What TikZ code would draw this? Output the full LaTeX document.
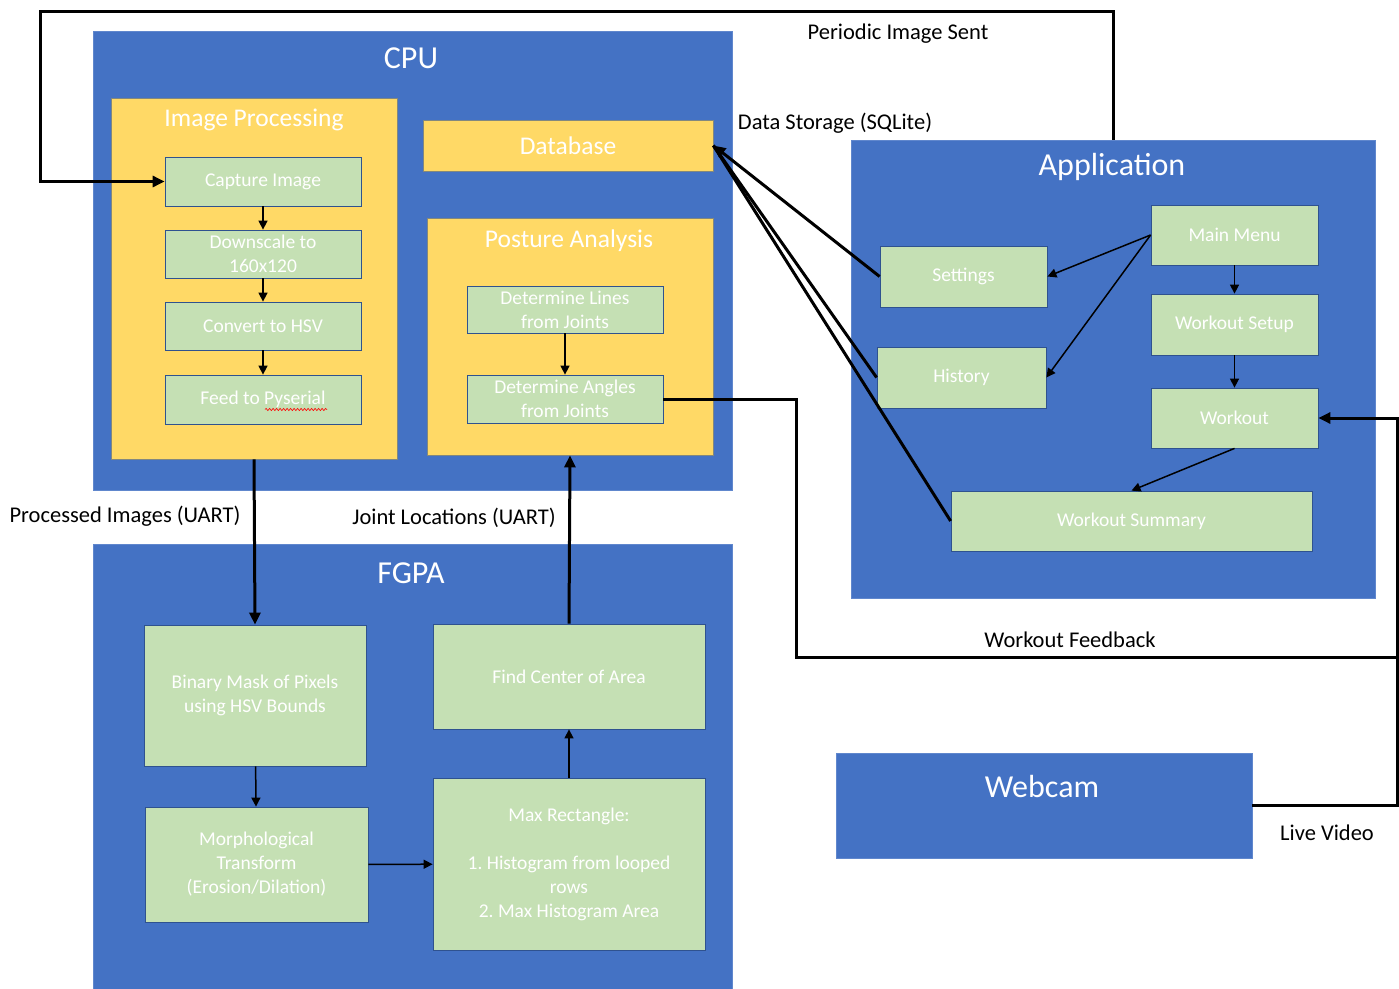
\documentclass[tikz,border=0pt]{standalone}
\usepackage{fontspec}
\setmainfont{Carlito}
\usetikzlibrary{arrows.meta,decorations.pathmorphing,calc}

\definecolor{offblue}{HTML}{4472C4}
\definecolor{offgold}{HTML}{FFD966}
\definecolor{offgreen}{HTML}{C5E0B4}
\definecolor{edgeblue}{HTML}{2F528F}

\begin{document}
\frenchspacing
\begin{tikzpicture}[x=1pt,y=-1pt,
  unit/.style={rectangle, draw=offblue!85!white, line width=0.6pt, fill=offblue, inner sep=0pt},
  group/.style={rectangle, draw=edgeblue!60!offgold, line width=0.8pt, fill=offgold, inner sep=0pt,
    text=white, font=\fontsize{25.5}{30}\selectfont},
  stage/.style={rectangle, draw=edgeblue, line width=0.8pt, fill=offgreen, inner sep=0pt,
    text=white, align=center, font=\fontsize{19.5}{24}\selectfont},
  title/.style={text=white, font=\fontsize{32}{38}\selectfont, inner sep=0pt},
  subtitle/.style={text=white, font=\fontsize{25.5}{30}\selectfont, inner sep=0pt},
  note/.style={text=black, font=\fontsize{22.5}{27}\selectfont, inner sep=0pt},
  bus/.style={line width=3pt, draw=black},
  busarrow/.style={bus, -{Triangle[length=12pt,width=11pt]}},
  flow/.style={line width=1.5pt, draw=black, -{Triangle[length=9pt,width=9pt]}},
]
\useasboundingbox (0,0) rectangle (1399,988);

% ---------- CPU ----------
\node[unit, minimum width=639pt, minimum height=459pt] (cpu) at (412.5,260.5) {};
\node[title] (cputitle) at (411,58) {CPU};

\node[group, minimum width=286pt, minimum height=361pt] (imgproc) at (254,278.5) {};
\node[subtitle] (imgproctitle) at (254,120) {Image Processing};
\node[stage, minimum width=196pt, minimum height=49pt] (capture) at (263,181.5) {Capture Image};
\node[stage, minimum width=196pt, minimum height=48pt] (downscale) at (263,254) {Downscale to\\160x120};
\node[stage, minimum width=196pt, minimum height=48pt] (convert) at (263,326) {Convert to HSV};
\node[stage, minimum width=196pt, minimum height=49pt] (feed) at (263,399.5) {Feed to Pyserial};
\draw[red, line width=0.6pt, decorate, decoration={snake, amplitude=1.1pt, segment length=3.5pt}]
  ($(feed.center)+(2,10)$) -- ($(feed.center)+(64,10)$);

\node[group, minimum width=290pt, minimum height=51pt] (db) at (568,145.5) {Database};

\node[group, minimum width=286pt, minimum height=237pt] (posture) at (570,336.5) {};
\node[subtitle] (posturetitle) at (569,241) {Posture Analysis};
\node[stage, minimum width=196pt, minimum height=47pt] (lines) at (565,309.5) {Determine Lines\\from Joints};
\node[stage, minimum width=196pt, minimum height=48pt] (angles) at (565,399) {Determine Angles\\from Joints};

% ---------- FGPA ----------
\node[unit, minimum width=639pt, minimum height=450pt] (fpga) at (412.5,769) {};
\node[title] (fpgatitle) at (411,573) {FGPA};
\node[stage, minimum width=222pt, minimum height=141pt] (binmask) at (255,695.5) {Binary Mask of Pixels\\using HSV Bounds};
\node[stage, minimum width=272pt, minimum height=105pt] (findc) at (569,676.5) {Find Center of Area};
\node[stage, minimum width=223pt, minimum height=115pt] (morph) at (256.5,864.5) {Morphological\\Transform\\(Erosion/Dilation)};
\node[stage, minimum width=272pt, minimum height=172pt] (maxrect) at (569,864) {Max Rectangle:\\[24pt]1. Histogram from looped\\rows\\2. Max Histogram Area};

% ---------- Application ----------
\node[unit, minimum width=524pt, minimum height=458pt] (app) at (1113,369) {};
\node[title] (apptitle) at (1112,167) {Application};
\node[stage, minimum width=167pt, minimum height=60pt] (mainmenu) at (1234.5,235) {Main Menu};
\node[stage, minimum width=167pt, minimum height=61pt] (settings) at (963.5,276.5) {Settings};
\node[stage, minimum width=167pt, minimum height=61pt] (setup) at (1234.5,324.5) {Workout Setup};
\node[stage, minimum width=169pt, minimum height=61pt] (history) at (961.5,377.5) {History};
\node[stage, minimum width=167pt, minimum height=60pt] (workout) at (1234.5,418) {Workout};
\node[stage, minimum width=361pt, minimum height=60pt] (summary) at (1131.5,521) {Workout Summary};

% ---------- Webcam ----------
\node[unit, minimum width=416pt, minimum height=105pt] (webcam) at (1044,805.5) {};
\node[title] (webcamtitle) at (1042,786) {Webcam};

% ---------- link labels ----------
\node[note] (periodiclabel) at (898,34) {Periodic Image Sent};
\node[note] (storagelabel) at (835,123) {Data Storage (SQLite)};
\node[note] (uartout) at (125,516) {Processed Images (UART)};
\node[note] (uartin) at (454,518) {Joint Locations (UART)};
\node[note] (feedbacklabel) at (1070,640) {Workout Feedback};
\node[note] (videolabel) at (1327,833) {Live Video};

% ---------- flows inside blocks ----------
\draw[flow] (capture) -- (downscale);
\draw[flow] (downscale) -- (convert);
\draw[flow] (convert) -- (feed);
\draw[flow] (lines) -- (angles);
\draw[flow] (binmask) -- (morph);
\draw[flow] (morph) -- (maxrect);
\draw[flow] (maxrect) -- (findc);
\draw[flow] (mainmenu) -- (setup);
\draw[flow] (setup) -- (workout);
\draw[flow] (mainmenu.west) -- (settings.east);
\draw[flow] (mainmenu.west) -- (history.east);
\draw[flow] (workout.south) -- (summary.north);

% ---------- links between blocks ----------
\coordinate (loopcorner) at (40,11);
\draw[busarrow] (app.north) |- (loopcorner) |- (capture.west);

\draw[bus] (history.west) -- (db.east);
\draw[bus] (summary.west) -- (db.east);
\draw[busarrow] (settings.west) -- (db.east);

\draw[busarrow] (imgproc.south) -- (binmask.north);
\draw[busarrow] (findc.north) -- (posture.south);

\coordinate (fbdrop) at (796,657);
\coordinate (fbjoin) at (1397,657);
\coordinate (videocorner) at (1397,805.5);
\draw[bus] (angles.east) -| (fbdrop) -- (fbjoin);
\draw[busarrow] (webcam.east) -- (videocorner) |- (workout.east);
\end{tikzpicture}
\end{document}
